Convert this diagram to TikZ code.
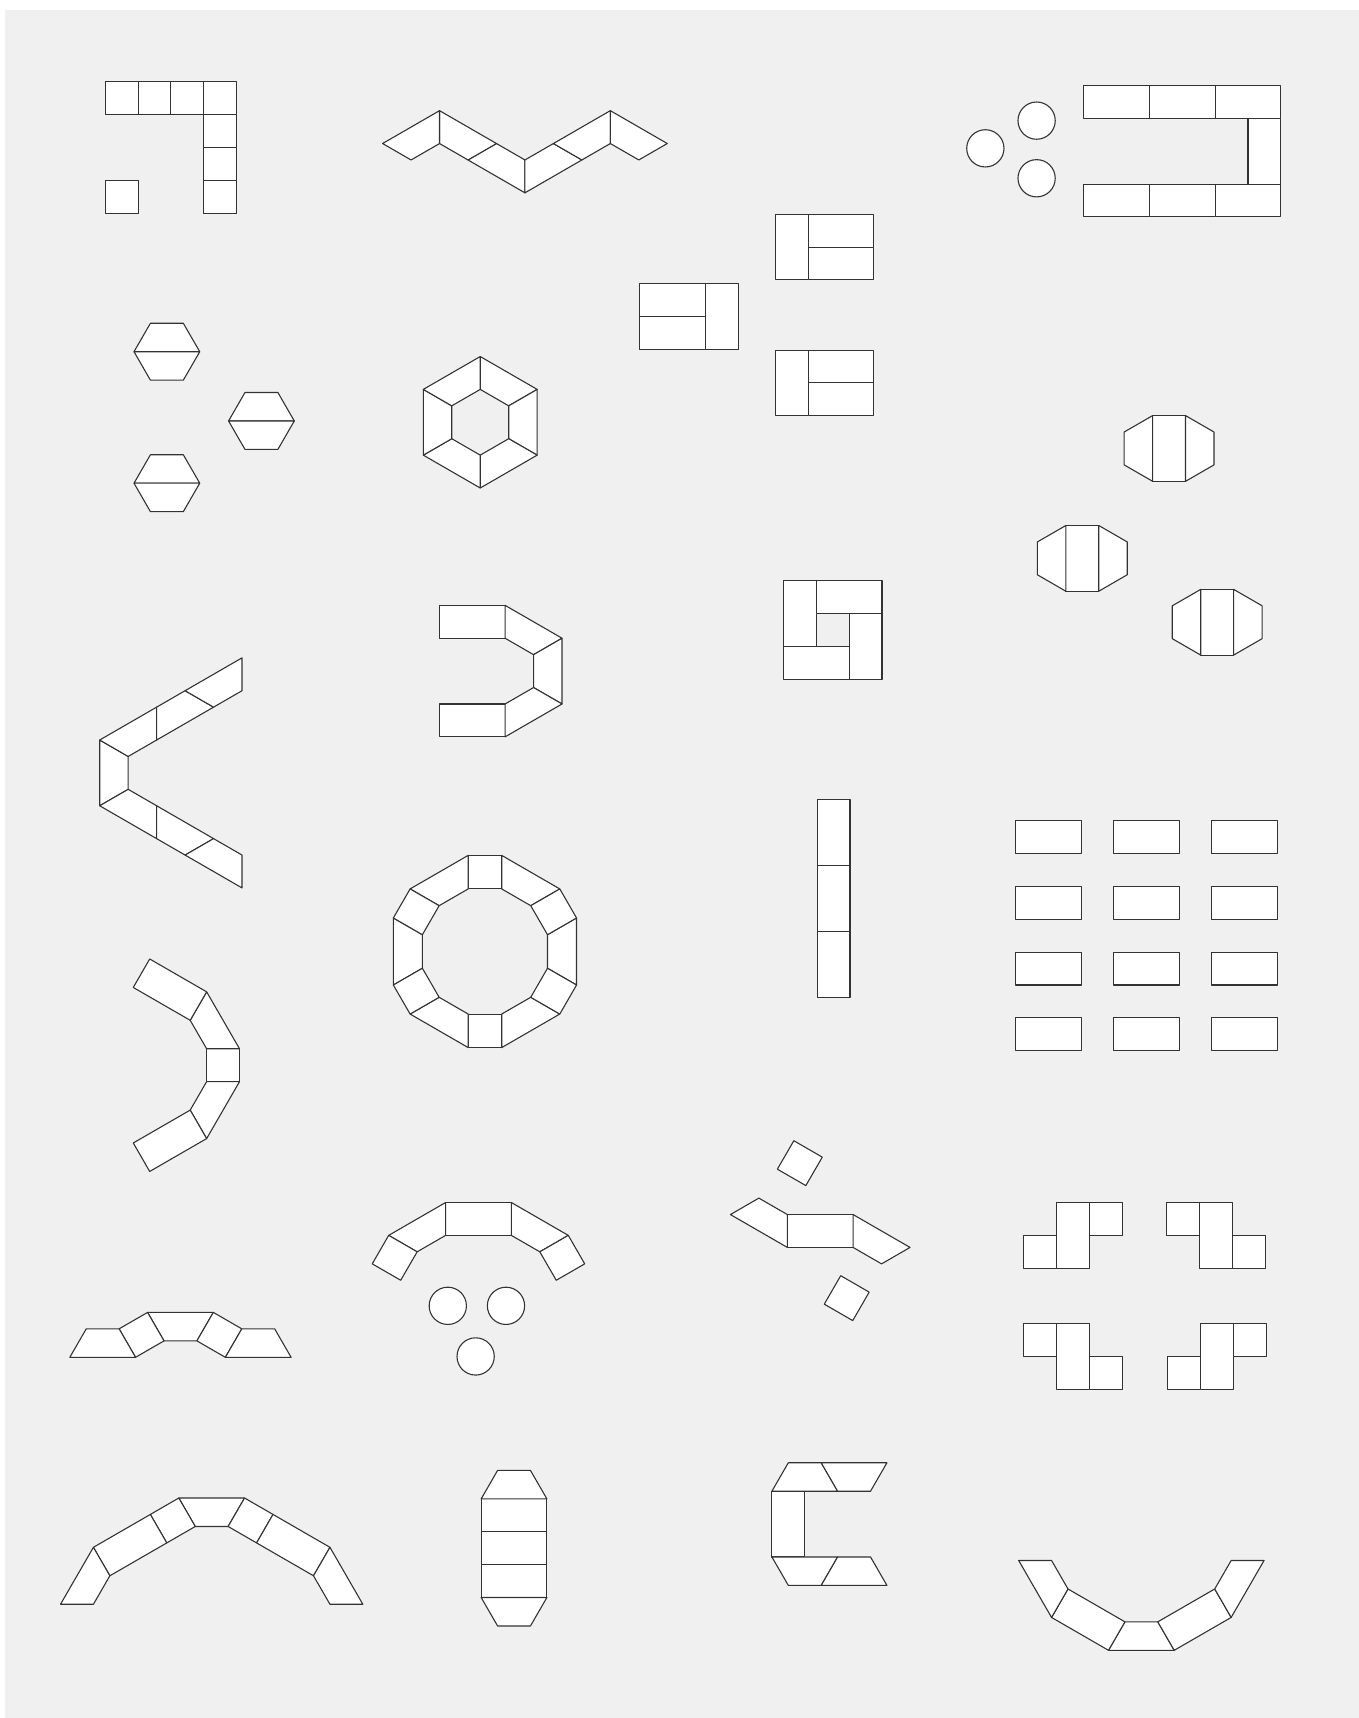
\documentclass[tikz,border=0pt]{standalone}
\usepackage{tikz}
\definecolor{mBack}{HTML}{F0F0F0}
\definecolor{mLine}{HTML}{333333}
\newcommand{\sqtab}[2]{\draw[tab] (#1) -- ++(#2:30) -- ++(#2+90:30) -- ++(#2+180:30) -- cycle;}
\newcommand{\recttab}[2]{\draw[tab] (#1) -- ++(#2:60) -- ++(#2+90:30) -- ++(#2+180:60) -- cycle;}
\newcommand{\traptab}[2]{\draw[tab] (#1) -- ++(#2:60) -- ++(#2+120:30) -- ++(#2+180:30) -- cycle;}
\begin{document}
\begin{tikzpicture}[x=1pt, y=-1pt,
    tab/.style={draw=mLine, fill=white, line width=1pt, line join=round}]
    \useasboundingbox (0,0) rectangle (1240,1568);
    \fill[white] (0,0) rectangle (1240,1568);
    \fill[mBack] (4.8,9.1) rectangle (1240,1568);

    % squares in an L
    \foreach \x/\y in {96/74.5, 126/74.5, 156/74.5, 186/74.5, 186/104.5,
                       186/134.5, 186/164.5, 96/164.5} {
      \draw[tab] (\x,\y) rectangle ++(30,30);
    }

    % zigzag
    \foreach \s in {1,-1} {
      \begin{scope}[shift={(479.1,0)}, xscale=\s]
        \traptab{0,176}{210}
        \traptab{-77.94,101}{30}
        \traptab{-129.9,131}{-30}
      \end{scope}
    }

    % round tables and open rectangle
    \foreach \x/\y in {899.3/135.4, 946.1/110.1, 946.1/162.7} {
      \draw[tab] (\x,\y) circle[radius=17pt];
    }
    \foreach \x in {989,1049,1109} {
      \draw[tab] (\x,78) rectangle ++(60,30);
      \draw[tab] (\x,168) rectangle ++(60,30);
    }
    \draw[tab] (1139,108) rectangle ++(30,60);

    % three blocks of three
    \foreach \y in {195.5,319.5} {
      \draw[tab] (707.5,\y) rectangle ++(30,60);
      \draw[tab] (737.5,\y) rectangle ++(60,30);
      \draw[tab] (737.5,\y+30) rectangle ++(60,30);
    }
    \draw[tab] (584,259) rectangle ++(60,30);
    \draw[tab] (584,289) rectangle ++(60,30);
    \draw[tab] (644,259) rectangle ++(30,60);

    % hexagons
    \foreach \x/\y in {152.3/321, 238.6/384.2, 152.3/441} {
      \traptab{\x+30,\y}{180}
      \traptab{\x-30,\y}{0}
    }

    % hexagon ring
    \begin{scope}[shift={(438.3,385.4)}]
      \foreach \t in {-90,-30,...,210} {\traptab{\t:60}{\t+120}}
    \end{scope}

    % octagons
    \foreach \x/\y in {1067/409.3, 987.8/509.6, 1110.9/567.9} {
      \draw[tab] (\x-15,\y-30) rectangle ++(30,60);
      \traptab{\x-15,\y-30}{90}
      \traptab{\x+15,\y+30}{-90}
    }

    % U
    \draw[tab] (401,552.5) rectangle ++(60,30);
    \draw[tab] (401,642.5) rectangle ++(60,30);
    \traptab{461,552.5}{30}
    \traptab{512.96,582.5}{90}
    \traptab{512.96,642.5}{150}

    % pinwheel
    \draw[tab] (715,530) rectangle ++(30,60);
    \draw[tab] (745,530) rectangle ++(60,30);
    \draw[tab] (775,560) rectangle ++(30,60);
    \draw[tab] (715,590) rectangle ++(60,30);

    % V
    \begin{scope}[shift={(91,705.4)}]
      \traptab{0,30}{-90}
      \foreach \s in {1,-1} {
        \begin{scope}[yscale=\s]
          \traptab{0,-30}{-30}
          \traptab{103.92,-60}{150}
          \traptab{77.94,-75}{-30}
        \end{scope}
      }
    \end{scope}

    % bracket
    \begin{scope}[shift={(0,972.2)}]
      \draw[tab] (188.6,-15) rectangle ++(30,30);
      \foreach \s in {1,-1} {
        \begin{scope}[yscale=\s]
          \traptab{188.6,-66.96}{60}
          \recttab{173.6,-40.98}{210}
        \end{scope}
      }
    \end{scope}

    % ring of twelve
    \begin{scope}[shift={(442.6,868.4)}, scale=1.02]
      \draw[tab] (-15,-85.98) rectangle ++(30,30);
      \draw[tab] (-15,55.98) rectangle ++(30,30);
      \foreach \sx in {1,-1} {
        \begin{scope}[xscale=\sx]
          \traptab{81.96,-30}{90}
          \foreach \sy in {1,-1} {
            \begin{scope}[yscale=\sy]
              \traptab{15,-85.98}{30}
              \sqtab{66.96,-55.98}{60}
            \end{scope}
          }
        \end{scope}
      }
    \end{scope}

    % column
    \foreach \y in {730,790,850} {
      \draw[tab] (745.8,\y) rectangle ++(30,60);
    }

    % rows
    \foreach \x in {927,1016.5,1106} {
      \foreach \y in {749.2,809.1,869,928.8} {
        \draw[tab] (\x,\y) rectangle ++(60,30);
      }
    }

    % low arc
    \begin{scope}[shift={(164.7,1197.8)}]
      \traptab{-30,0}{0}
      \foreach \s in {1,-1} {
        \begin{scope}[xscale=\s]
          \sqtab{-30,0}{60}
          \traptab{-40.98,40.98}{180}
        \end{scope}
      }
    \end{scope}

    % arc with round tables
    \begin{scope}[shift={(436.7,0)}]
      \draw[tab] (-30,1097.5) rectangle ++(60,30);
      \foreach \s in {1,-1} {
        \begin{scope}[xscale=\s]
          \traptab{-81.96,1127.5}{-30}
          \sqtab{-81.96,1127.5}{30}
        \end{scope}
      }
    \end{scope}
    \foreach \x/\y in {408.7/1191.8, 461.8/1191.8, 434.1/1238} {
      \draw[tab] (\x,\y) circle[radius=17pt];
    }

    % scattered
    \sqtab{724.5,1041.1}{30}
    \sqtab{767.3,1164.3}{30}
    \draw[tab] (718.6,1108.5) rectangle ++(60,30);
    \traptab{718.6,1138.5}{210}
    \traptab{778.6,1108.5}{30}

    % four steps
    \foreach \x/\y/\w/\h in {934.5/1127.5/30/30, 964.5/1097.5/30/60, 994.5/1097.5/30/30,
                             1065/1097.5/30/30, 1095/1097.5/30/60, 1125/1127.5/30/30,
                             934.3/1208.2/30/30, 964.3/1208.2/30/60, 994.3/1238.2/30/30,
                             1065.5/1238.2/30/30, 1095.5/1208.2/30/60, 1125.5/1208.2/30/30} {
      \draw[tab] (\x,\y) rectangle ++(\w,\h);
    }

    % big arch
    \begin{scope}[shift={(193.2,1367.2)}]
      \traptab{-30,0}{0}
      \foreach \s in {1,-1} {
        \begin{scope}[xscale=\s]
          \sqtab{-30,0}{60}
          \recttab{-40.98,40.98}{150}
          \traptab{-137.94,96.96}{-60}
        \end{scope}
      }
    \end{scope}

    % stack
    \foreach \y in {1368,1398,1428} {
      \draw[tab] (439.15,\y) rectangle ++(60,30);
    }
    \traptab{499.15,1368}{180}
    \traptab{439.15,1458}{0}

    % C
    \draw[tab] (704.5,1361) rectangle ++(30,60);
    \traptab{764.5,1361}{180}
    \traptab{749.5,1335.02}{0}
    \traptab{704.5,1421}{0}
    \traptab{809.5,1446.98}{180}

    % bowl
    \begin{scope}[shift={(1041.7,1506.2)}]
      \traptab{30,0}{180}
      \foreach \s in {1,-1} {
        \begin{scope}[xscale=\s]
          \recttab{-30,0}{210}
          \traptab{-81.96,-30}{240}
        \end{scope}
      }
    \end{scope}
\end{tikzpicture}
\end{document}
